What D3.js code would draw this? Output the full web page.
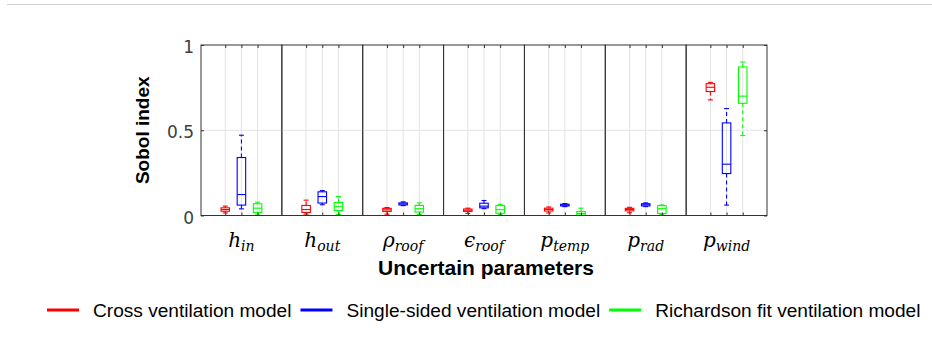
<!DOCTYPE html>
<html>
<head>
<meta charset="utf-8">
<script src="https://cdn.jsdelivr.net/npm/d3@7/dist/d3.min.js"></script>
<style>
  html, body { margin: 0; padding: 0; background: #fff; }
  svg { display: block; }
</style>
</head>
<body>
<svg id="chart" width="932" height="343"></svg>
<script>
// Uncertain parameters (main symbol + subscript)
const paramSymbols = ["h", "h", "ρ", "ϵ", "p", "p", "p"];
const paramSubs    = ["in", "out", "roof", "roof", "temp", "rad", "wind"];
const params = paramSymbols.map((s, i) => s + "_" + paramSubs[i]);

// Ventilation models shown in each panel
const seriesNames  = ["Cross ventilation model", "Single-sided ventilation model", "Richardson fit ventilation model"];
const seriesColors = ["#ff0000", "#0000ff", "#00ff00"];

// Box statistics per parameter: [whisker low, Q1, median, Q3, whisker high]
const crossStats = [
  [0.015, 0.025, 0.035, 0.045, 0.055],
  [0.008, 0.018, 0.035, 0.059, 0.090],
  [0.008, 0.024, 0.033, 0.042, 0.047],
  [0.012, 0.024, 0.031, 0.038, 0.043],
  [0.015, 0.026, 0.035, 0.043, 0.050],
  [0.016, 0.027, 0.035, 0.042, 0.048],
  [0.678, 0.727, 0.752, 0.773, 0.781]
];
const singleStats = [
  [0.039, 0.061, 0.123, 0.340, 0.471],
  [0.063, 0.073, 0.111, 0.139, 0.146],
  [0.058, 0.062, 0.068, 0.074, 0.080],
  [0.040, 0.045, 0.055, 0.072, 0.088],
  [0.052, 0.056, 0.061, 0.066, 0.070],
  [0.052, 0.056, 0.063, 0.069, 0.074],
  [0.061, 0.246, 0.301, 0.543, 0.627]
];
const richardsonStats = [
  [0.004, 0.018, 0.043, 0.069, 0.078],
  [0.006, 0.029, 0.052, 0.076, 0.111],
  [0.005, 0.020, 0.040, 0.059, 0.074],
  [0.005, 0.013, 0.034, 0.059, 0.066],
  [0.000, 0.003, 0.012, 0.023, 0.043],
  [0.005, 0.012, 0.040, 0.058, 0.062],
  [0.469, 0.658, 0.700, 0.871, 0.900]
];
const allStats = [crossStats, singleStats, richardsonStats];

// Y axis ticks
const yTicks = [0, 0.5, 1];
const yTickLabels = ["0", "0.5", "1"];

const svg = d3.select("#chart");

// Plot frame
const plotLeft = 201, plotRight = 767, plotTop = 45, plotBottom = 215.5;

const y = d3.scaleLinear().domain([0, 1]).range([plotBottom, plotTop]);
const xPanel = d3.scaleBand().domain(params).range([plotLeft, plotRight]).padding(0);
const bw = xPanel.bandwidth();
const xInner = d3.scaleLinear().domain([0, 2]).range([bw * 0.3, bw * 0.7]);

const boxW = 8.5, capW = 5;
const frameColor = "#333333";
const gridColor = "#e3e3e3";

// thin separator line across the top of the page
svg.append("line")
  .attr("x1", 7).attr("x2", 932).attr("y1", 4.5).attr("y2", 4.5)
  .attr("stroke", "#d0d0d0").attr("stroke-width", 1.2);

const panels = svg.selectAll("g.panel")
  .data(params)
  .join("g")
  .attr("class", "panel")
  .attr("transform", d => `translate(${xPanel(d)},0)`);

// grid: vertical at each model position, horizontal at 0.5
panels.each(function () {
  const g = d3.select(this);
  g.selectAll("line.vgrid")
    .data([0, 1, 2])
    .join("line")
    .attr("class", "vgrid")
    .attr("x1", d => xInner(d)).attr("x2", d => xInner(d))
    .attr("y1", plotTop).attr("y2", plotBottom)
    .attr("stroke", gridColor).attr("stroke-width", 1);
  g.append("line")
    .attr("x1", 0).attr("x2", bw)
    .attr("y1", y(0.5)).attr("y2", y(0.5))
    .attr("stroke", gridColor).attr("stroke-width", 1);
});

// boxes
panels.each(function (p, pi) {
  const g = d3.select(this);
  allStats.forEach((stats, si) => {
    const [lo, q1, med, q3, hi] = stats[pi];
    const cx = xInner(si);
    const col = seriesColors[si];
    const b = g.append("g").attr("fill", "none").attr("stroke", col).attr("stroke-width", 1.1);
    // whiskers (dashed)
    b.append("line").attr("x1", cx).attr("x2", cx).attr("y1", y(q3)).attr("y2", y(hi))
      .attr("stroke-dasharray", "4,3");
    b.append("line").attr("x1", cx).attr("x2", cx).attr("y1", y(q1)).attr("y2", y(lo))
      .attr("stroke-dasharray", "4,3");
    // caps
    b.append("line").attr("x1", cx - capW / 2).attr("x2", cx + capW / 2).attr("y1", y(hi)).attr("y2", y(hi));
    b.append("line").attr("x1", cx - capW / 2).attr("x2", cx + capW / 2).attr("y1", y(lo)).attr("y2", y(lo));
    // box
    b.append("rect")
      .attr("x", cx - boxW / 2).attr("width", boxW)
      .attr("y", y(q3)).attr("height", Math.max(1, y(q1) - y(q3)));
    // median
    b.append("line").attr("x1", cx - boxW / 2).attr("x2", cx + boxW / 2).attr("y1", y(med)).attr("y2", y(med));
  });
});

// inward ticks at the model positions, top and bottom, plus panel frames
panels.each(function () {
  const g = d3.select(this);
  const tickScale = d3.scaleLinear().domain([0, 2]).range([xInner(0), xInner(2)]);
  const bottomAxis = d3.axisBottom(tickScale).tickValues([0, 1, 2]).tickSizeInner(-3).tickSizeOuter(0).tickFormat("");
  const topAxis = d3.axisTop(tickScale).tickValues([0, 1, 2]).tickSizeInner(-3).tickSizeOuter(0).tickFormat("");
  g.append("g").attr("transform", `translate(0,${plotBottom})`).call(bottomAxis)
    .call(a => a.select(".domain").remove())
    .selectAll("line").attr("stroke", frameColor);
  g.append("g").attr("transform", `translate(0,${plotTop})`).call(topAxis)
    .call(a => a.select(".domain").remove())
    .selectAll("line").attr("stroke", frameColor);
  g.append("rect")
    .attr("x", 0).attr("y", plotTop).attr("width", bw).attr("height", plotBottom - plotTop)
    .attr("fill", "none").attr("stroke", frameColor).attr("stroke-width", 1);
});

// left y axis
const yAxis = d3.axisLeft(y).tickValues(yTicks)
  .tickFormat((d, i) => yTickLabels[i])
  .tickSizeInner(-3).tickSizeOuter(0).tickPadding(7);
const ya = svg.append("g").attr("transform", `translate(${plotLeft},0)`).call(yAxis);
ya.select(".domain").remove();
ya.selectAll("line").attr("stroke", frameColor);
ya.selectAll("text")
  .attr("font-family", "DejaVu Sans, sans-serif")
  .attr("font-size", 17)
  .attr("fill", "#404040")
  .attr("dy", "0.45em");

// right side inward ticks
const yAxisR = d3.axisRight(y).tickValues(yTicks).tickSizeInner(-3).tickSizeOuter(0).tickFormat("");
const yr = svg.append("g").attr("transform", `translate(${plotRight},0)`).call(yAxisR);
yr.select(".domain").remove();
yr.selectAll("line").attr("stroke", frameColor);

// y axis title
svg.append("text")
  .attr("transform", `translate(149,${(plotTop + plotBottom) / 2}) rotate(-90)`)
  .attr("text-anchor", "middle")
  .attr("font-family", "Liberation Sans, Arial, sans-serif")
  .attr("font-weight", "bold")
  .attr("font-size", 19)
  .attr("fill", "#000")
  .text("Sobol index");

// parameter labels (math style: italic symbol with italic subscript)
const labels = svg.selectAll("text.param")
  .data(params)
  .join("text")
  .attr("class", "param")
  .attr("x", d => xPanel(d) + bw / 2)
  .attr("y", 247)
  .attr("text-anchor", "middle")
  .attr("font-family", "DejaVu Serif, serif")
  .attr("font-style", "italic")
  .attr("fill", "#000");
labels.append("tspan").attr("font-size", 20).text((d, i) => paramSymbols[i]);
labels.append("tspan").attr("font-size", 14).attr("dy", 4).text((d, i) => paramSubs[i]);

// x axis title
svg.append("text")
  .attr("x", 486)
  .attr("y", 275)
  .attr("text-anchor", "middle")
  .attr("font-family", "Liberation Sans, Arial, sans-serif")
  .attr("font-weight", "bold")
  .attr("font-size", 21)
  .attr("fill", "#000")
  .text("Uncertain parameters");

// legend
const legend = svg.append("g");
let lx = 47;
seriesNames.forEach((name, i) => {
  legend.append("line")
    .attr("x1", lx).attr("x2", lx + 32).attr("y1", 310).attr("y2", 310)
    .attr("stroke", seriesColors[i]).attr("stroke-width", 3);
  const t = legend.append("text")
    .attr("x", lx + 46).attr("y", 317)
    .attr("font-family", "Liberation Sans, Arial, sans-serif")
    .attr("font-size", 19.1)
    .attr("fill", "#000")
    .text(name);
  lx = lx + 46 + t.node().getComputedTextLength() + 9;
});
</script>
</body>
</html>
